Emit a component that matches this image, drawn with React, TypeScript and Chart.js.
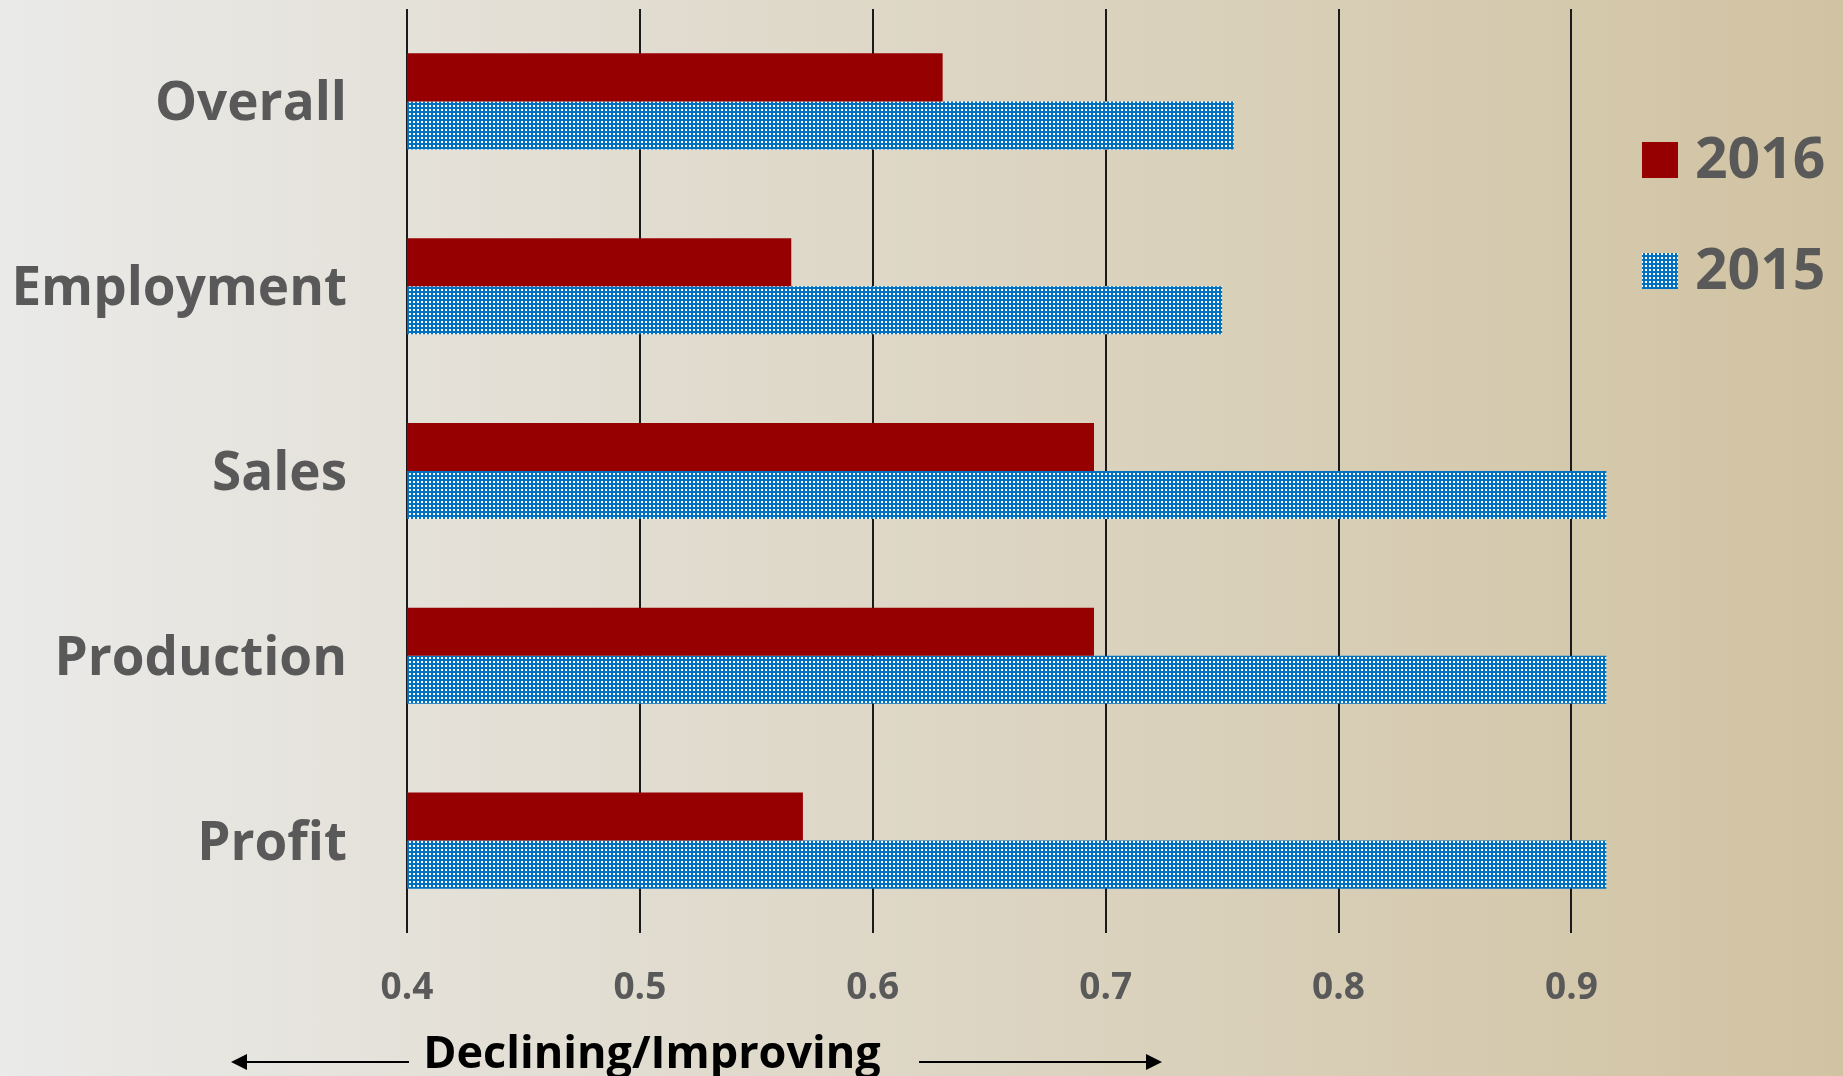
import React, { useEffect, useRef } from "react";
import { Chart, registerables } from "chart.js";

Chart.register(...registerables);

const categories = ["Overall", "Employment", "Sales", "Production", "Profit"];
const series2016 = [0.63, 0.565, 0.695, 0.695, 0.57];
const series2015 = [0.755, 0.75, 0.915, 0.915, 0.915];
const seriesLabels = ["2016", "2015"];
const axisTitle = "Declining/Improving";
const xMin = 0.4;
const xMax = 0.92;
const xStep = 0.1;

const W = 1843;
const H = 1076;
const FONT = '"Open Sans", "DejaVu Sans", sans-serif';
const RED = "#970000";
const BLUE = "#0070C0";
const GREY = "#595959";

function makePattern(): CanvasPattern | string {
  const c = document.createElement("canvas");
  c.width = 4;
  c.height = 4;
  const g = c.getContext("2d");
  if (!g) return BLUE;
  g.fillStyle = BLUE;
  g.fillRect(0, 0, 4, 4);
  g.fillStyle = "#ffffff";
  g.fillRect(1, 1, 2, 2);
  const p = g.createPattern(c, "repeat");
  return p || BLUE;
}

export default function App() {
  const ref = useRef<HTMLCanvasElement | null>(null);

  useEffect(() => {
    let chart: Chart | null = null;
    let cancelled = false;

    const build = () => {
      if (cancelled || !ref.current) return;
      const pattern = makePattern();

      const overlay = {
        id: "overlay",
        afterDraw(ch: any) {
          const ctx = ch.ctx as CanvasRenderingContext2D;
          ctx.save();
          const items = [
            { label: seriesLabels[0], fill: RED as any, y: 160 },
            { label: seriesLabels[1], fill: pattern as any, y: 271 },
          ];
          items.forEach((it) => {
            ctx.fillStyle = it.fill;
            ctx.fillRect(1642, it.y - 18, 36, 36);
            ctx.fillStyle = GREY;
            ctx.font = `bold 57px ${FONT}`;
            ctx.textBaseline = "middle";
            ctx.textAlign = "left";
            ctx.fillText(it.label, 1695, it.y + 2);
          });
          ctx.fillStyle = "#000000";
          ctx.font = `bold 45px ${FONT}`;
          ctx.textAlign = "center";
          ctx.textBaseline = "alphabetic";
          ctx.fillText(axisTitle, 652, 1068);
          const ay = 1062;
          ctx.strokeStyle = "#000000";
          ctx.lineWidth = 2;
          ctx.beginPath();
          ctx.moveTo(245, ay);
          ctx.lineTo(409, ay);
          ctx.moveTo(919, ay);
          ctx.lineTo(1148, ay);
          ctx.stroke();
          ctx.fillStyle = "#000000";
          ctx.beginPath();
          ctx.moveTo(231, ay);
          ctx.lineTo(247, ay - 8);
          ctx.lineTo(247, ay + 8);
          ctx.closePath();
          ctx.fill();
          ctx.beginPath();
          ctx.moveTo(1162, ay);
          ctx.lineTo(1146, ay - 8);
          ctx.lineTo(1146, ay + 8);
          ctx.closePath();
          ctx.fill();
          ctx.restore();
        },
      };

      chart = new Chart(ref.current, {
        type: "bar",
        data: {
          labels: categories,
          datasets: [
            {
              label: seriesLabels[0],
              data: series2016,
              backgroundColor: RED,
              borderWidth: 0,
            },
            {
              label: seriesLabels[1],
              data: series2015,
              backgroundColor: pattern as any,
              borderWidth: 0,
            },
          ],
        },
        options: {
          indexAxis: "y",
          responsive: false,
          animation: false,
          devicePixelRatio: 1,
          layout: { padding: { top: 9, right: W - 1618, bottom: 0, left: 0 } },
          datasets: {
            bar: { categoryPercentage: 0.52, barPercentage: 1 },
          },
          plugins: {
            legend: { display: false },
            tooltip: { enabled: false },
          },
          scales: {
            x: {
              type: "linear",
              min: xMin,
              max: xMax,
              grid: {
                color: "#1a1a1a",
                lineWidth: 2,
                drawTicks: false,
              },
              border: { display: false },
              ticks: {
                stepSize: xStep,
                includeBounds: false,
                padding: 33,
                color: GREY,
                font: { family: FONT, size: 37, weight: "bold" },
                callback: (v: any) => Number(v).toFixed(1),
              },
              afterFit: (s: any) => {
                s.height = 143;
                s.paddingLeft = 0;
                s.paddingRight = 0;
              },
            },
            y: {
              type: "category",
              grid: { display: false, drawTicks: false },
              border: { display: false },
              ticks: {
                padding: 60,
                labelOffset: 4,
                color: GREY,
                font: { family: FONT, size: 53, weight: "bold" },
              },
              afterFit: (s: any) => {
                s.width = 407;
                s.paddingTop = 0;
                s.paddingBottom = 0;
              },
            },
          },
        },
        plugins: [overlay],
      });
    };

    const fontsApi: any = (document as any).fonts;
    if (fontsApi && fontsApi.load) {
      Promise.all([
        fontsApi.load(`bold 54px "Open Sans"`),
        fontsApi.load(`bold 37px "Open Sans"`),
      ])
        .catch(() => null)
        .then(build);
    } else {
      build();
    }

    return () => {
      cancelled = true;
      if (chart) chart.destroy();
    };
  }, []);

  return (
    <div
      style={{
        position: "absolute",
        left: 0,
        top: 0,
        width: W,
        height: H,
        background: "linear-gradient(to right, #EAEAE9, #D1C3A2)",
        overflow: "hidden",
      }}
    >
      <canvas ref={ref} width={W} height={H} style={{ display: "block" }} />
    </div>
  );
}
